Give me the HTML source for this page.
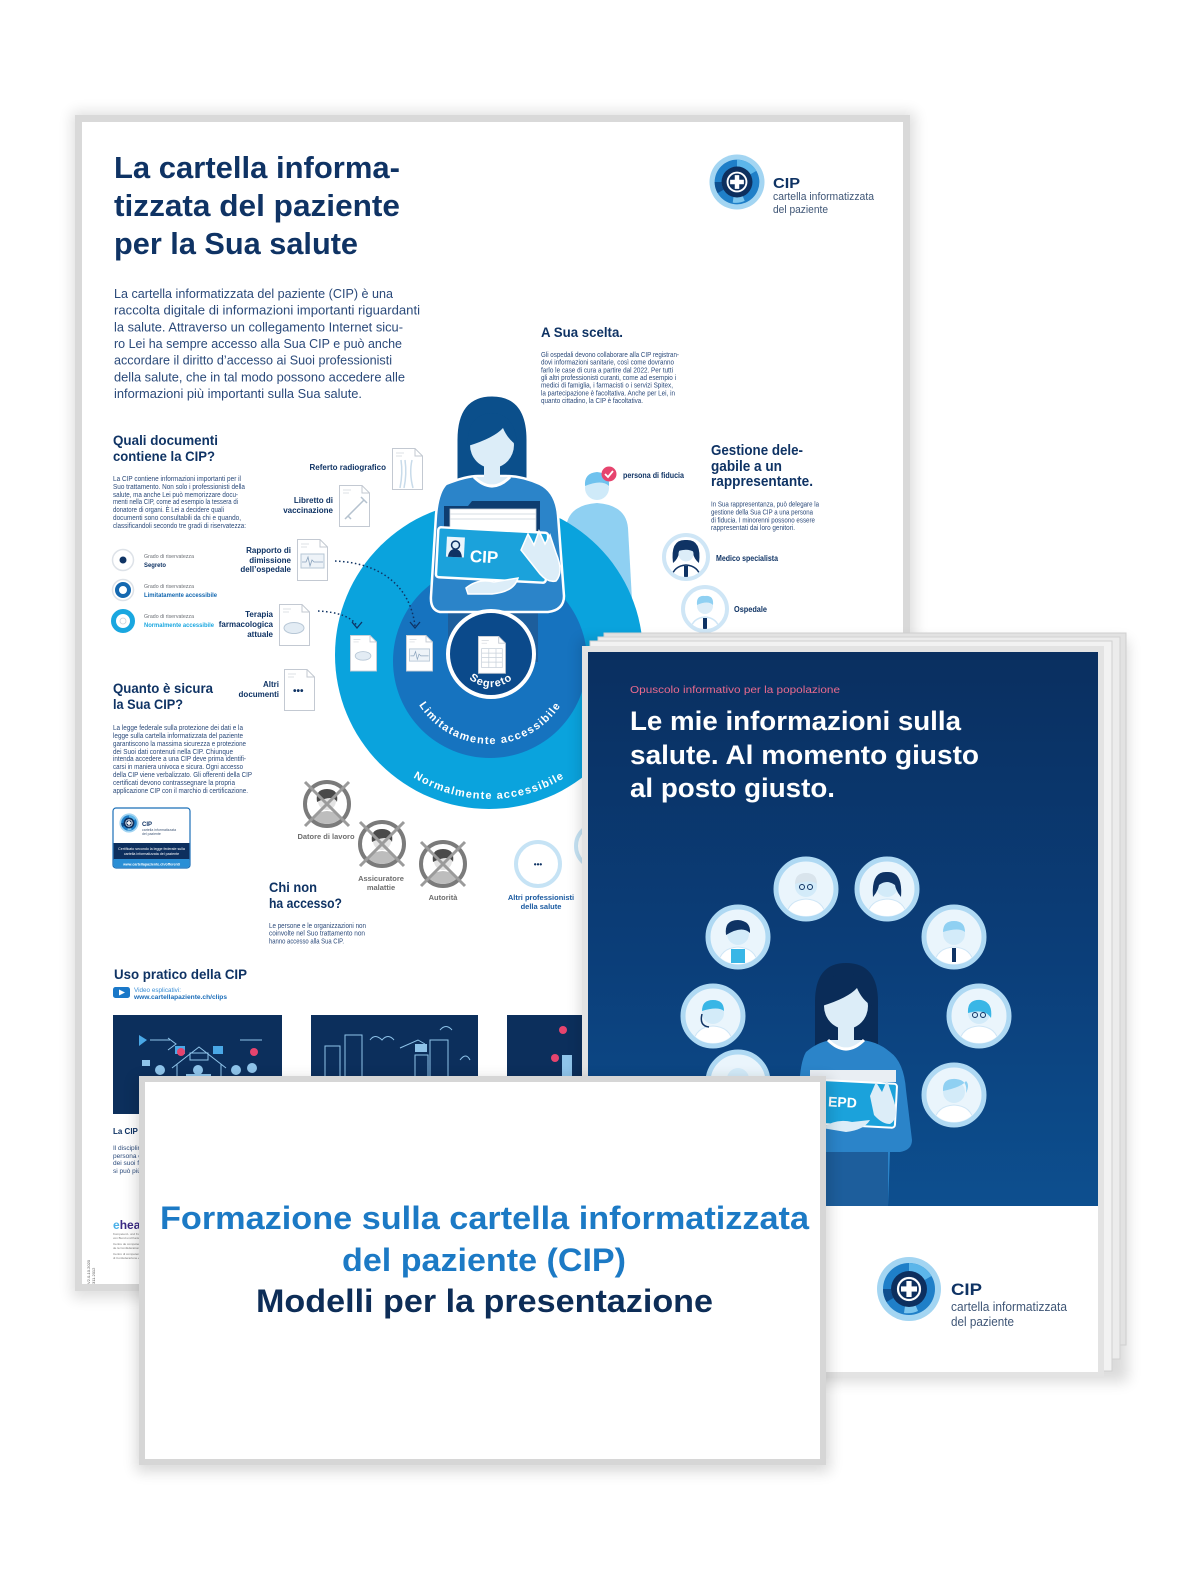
<!DOCTYPE html>
<html><head><meta charset="utf-8"><title>CIP</title>
<style>
html,body{margin:0;padding:0;background:#fff;width:1200px;height:1583px;overflow:hidden}
svg{display:block}
text{font-family:"Liberation Sans",Arial,sans-serif}
</style></head><body>
<svg xmlns="http://www.w3.org/2000/svg" width="1200" height="1583" viewBox="0 0 1200 1583">
<defs>
<filter id="blur" x="-20%" y="-20%" width="140%" height="140%"><feGaussianBlur stdDeviation="7"/></filter>
<linearGradient id="bro" x1="0" y1="0" x2="0" y2="1"><stop offset="0" stop-color="#0a2f60"/><stop offset="0.55" stop-color="#0b3e79"/><stop offset="1" stop-color="#0d4f8f"/></linearGradient>
<clipPath id="c27"><circle r="27"/></clipPath>
<clipPath id="c20"><circle r="20"/></clipPath>
<g id="logo">
<circle r="32" fill="#a3d5f2"/>
<circle r="26" fill="#1f7fc8"/>
<path d="M0,-26A26,26 0 0 1 22.5,-13L15.6,-9A18,18 0 0 0 0,-18Z" fill="#5cb6ea"/>
<path d="M-22.5,13A26,26 0 0 1 -26,0L-18,0A18,18 0 0 0 -15.6,9Z" fill="#0f4f90"/>
<path d="M9,22A24,24 0 0 1 -5,24L-4,17A17,17 0 0 0 6,15Z" fill="#7cc5ee"/>
<circle r="18" fill="#0d2f5e"/>
<circle r="11" fill="none" stroke="#fff" stroke-width="2.2"/>
<rect x="-2.6" y="-8" width="5.2" height="16" fill="#fff"/>
<rect x="-8" y="-2.6" width="16" height="5.2" fill="#fff"/>
</g>
<g id="doc"><path d="M0.5,0.5H23L30.5,8V41.5H0.5Z" fill="#fff" stroke="#c3c9d2"/><path d="M23,0.5V8H30.5" fill="none" stroke="#c3c9d2"/><path d="M4,5H12M4,8H10" stroke="#d3d7dd" stroke-width="0.8"/></g>
<g id="grayav">
<circle r="22" fill="#fff" stroke="#7b7b7b" stroke-width="4"/>
<g clip-path="url(#c20)"><path d="M-16,22Q-14,8 0,7Q14,8 16,22Z" fill="#bdbdbd"/><circle cy="-3" r="9" fill="#e3e3e3"/><path d="M-10,-2Q-12,-15 0,-15Q12,-15 10,-2Q6,-10 -10,-2Z" fill="#4a4a4a"/></g>
<path d="M-22,-22L22,22M22,-22L-22,22" stroke="#9b9b9b" stroke-width="3"/>
</g>
<g id="brav">
<circle r="30" fill="#eaf5fc" stroke="#afd9f3" stroke-width="5"/>
<g clip-path="url(#c27)"><path d="M-20,28Q-18,11 0,10Q18,11 20,28Z" fill="#fff" stroke="#cfe6f6"/><circle cy="-3" r="11" fill="#d3ebf9"/></g>
</g>
</defs>

<!-- ============ POSTER ============ -->
<rect x="72" y="112" width="843" height="1186" fill="#000" opacity="0.13" filter="url(#blur)"/>
<rect x="75" y="115" width="835" height="1176" fill="#d9d9d9"/>
<rect x="82" y="122" width="821" height="1162" fill="#fff"/>

<g fill="#0f3364" font-weight="bold" font-size="31">
<text x="114" y="178" textLength="286" lengthAdjust="spacingAndGlyphs">La cartella informa-</text>
<text x="114" y="216" textLength="286" lengthAdjust="spacingAndGlyphs">tizzata del paziente</text>
<text x="114" y="254" textLength="244" lengthAdjust="spacingAndGlyphs">per la Sua salute</text>
</g>
<g fill="#2b4a7a" font-size="12.5">
<text x="114" y="298" textLength="279" lengthAdjust="spacingAndGlyphs">La cartella informatizzata del paziente (CIP) è una</text>
<text x="114" y="314.7" textLength="306" lengthAdjust="spacingAndGlyphs">raccolta digitale di informazioni importanti riguardanti</text>
<text x="114" y="331.3" textLength="289" lengthAdjust="spacingAndGlyphs">la salute. Attraverso un collegamento Internet sicu-</text>
<text x="114" y="348" textLength="288" lengthAdjust="spacingAndGlyphs">ro Lei ha sempre accesso alla Sua CIP e può anche</text>
<text x="114" y="364.7" textLength="278" lengthAdjust="spacingAndGlyphs">accordare il diritto d’accesso ai Suoi professionisti</text>
<text x="114" y="381.3" textLength="291" lengthAdjust="spacingAndGlyphs">della salute, che in tal modo possono accedere alle</text>
<text x="114" y="398" textLength="248" lengthAdjust="spacingAndGlyphs">informazioni più importanti sulla Sua salute.</text>
</g>

<!-- top logo -->
<use href="#logo" transform="translate(737,182) scale(0.86)"/>
<text x="773" y="188" font-size="15" font-weight="bold" fill="#0f3364" textLength="27" lengthAdjust="spacingAndGlyphs">CIP</text>
<text x="773" y="200" font-size="11" fill="#3f5676" textLength="101" lengthAdjust="spacingAndGlyphs">cartella informatizzata</text>
<text x="773" y="213" font-size="11" fill="#3f5676" textLength="55" lengthAdjust="spacingAndGlyphs">del paziente</text>

<!-- A Sua scelta -->
<text x="541" y="337" font-size="14" font-weight="bold" fill="#0f3364" textLength="82" lengthAdjust="spacingAndGlyphs">A Sua scelta.</text>
<g fill="#2b4a7a" font-size="7">
<text x="541" y="357" textLength="138" lengthAdjust="spacingAndGlyphs">Gli ospedali devono collaborare alla CIP registran-</text>
<text x="541" y="364.7" textLength="133" lengthAdjust="spacingAndGlyphs">dovi informazioni sanitarie, così come dovranno</text>
<text x="541" y="372.3" textLength="132" lengthAdjust="spacingAndGlyphs">farlo le case di cura a partire dal 2022. Per tutti</text>
<text x="541" y="380" textLength="135" lengthAdjust="spacingAndGlyphs">gli altri professionisti curanti, come ad esempio i</text>
<text x="541" y="387.7" textLength="132" lengthAdjust="spacingAndGlyphs">medici di famiglia, i farmacisti o i servizi Spitex,</text>
<text x="541" y="395.3" textLength="134" lengthAdjust="spacingAndGlyphs">la partecipazione è facoltativa. Anche per Lei, in</text>
<text x="541" y="403" textLength="102" lengthAdjust="spacingAndGlyphs">quanto cittadino, la CIP è facoltativa.</text>
</g>

<!-- Gestione -->
<g font-size="15" font-weight="bold" fill="#0f3364">
<text x="711" y="455" textLength="92" lengthAdjust="spacingAndGlyphs">Gestione dele-</text>
<text x="711" y="471" textLength="71" lengthAdjust="spacingAndGlyphs">gabile a un</text>
<text x="711" y="486" textLength="102" lengthAdjust="spacingAndGlyphs">rappresentante.</text>
</g>
<g fill="#2b4a7a" font-size="7">
<text x="711" y="506.5" textLength="108" lengthAdjust="spacingAndGlyphs">In Sua rappresentanza, può delegare la</text>
<text x="711" y="514.5" textLength="102" lengthAdjust="spacingAndGlyphs">gestione della Sua CIP a una persona</text>
<text x="711" y="522.5" textLength="104" lengthAdjust="spacingAndGlyphs">di fiducia. I minorenni possono essere</text>
<text x="711" y="530" textLength="84" lengthAdjust="spacingAndGlyphs">rappresentati dai loro genitori.</text>
</g>

<!-- persona di fiducia -->
<path d="M565,600L566,528Q568,505 597,503Q626,505 628,528L632,600Z" fill="#8fd0f2"/>
<circle cx="597" cy="488" r="12" fill="#cfeaf9"/>
<path d="M585,486Q584,473 597,472Q610,473 609,486Q602,479 585,486Z" fill="#6fc2ee"/>
<circle cx="609" cy="474" r="7.5" fill="#e6446e"/>
<path d="M605,474L608,477L613,471" fill="none" stroke="#fff" stroke-width="1.8"/>
<text x="623" y="478" font-size="8" font-weight="bold" fill="#0f3364" textLength="61" lengthAdjust="spacingAndGlyphs">persona di fiducia</text>

<!-- Medico / Ospedale avatars -->
<g transform="translate(686,557)"><circle r="22" fill="#fff" stroke="#cfe6f6" stroke-width="4"/><g clip-path="url(#c20)"><path d="M-15,22Q-13,9 0,8Q13,9 15,22Z" fill="#fff" stroke="#0f3364" stroke-width="1.5"/><path d="M-13,6Q-16,-18 0,-17Q16,-18 13,6Q8,2 7,-4L-7,-4Q-8,2 -13,6Z" fill="#0f3364"/><circle cy="-3" r="7.5" fill="#dcedf8"/><path d="M-8,-6Q-4,-14 4,-12Q8,-10 8,-5Q2,-9 -8,-6Z" fill="#0f3364"/><rect x="-2" y="9" width="4" height="13" fill="#0f3364"/></g></g>
<text x="716" y="561" font-size="8" font-weight="bold" fill="#0f3364" textLength="62" lengthAdjust="spacingAndGlyphs">Medico specialista</text>
<g transform="translate(705,609)"><circle r="22" fill="#fff" stroke="#cfe6f6" stroke-width="4"/><g clip-path="url(#c20)"><path d="M-15,22Q-13,9 0,8Q13,9 15,22Z" fill="#fff" stroke="#cfe6f6" stroke-width="1.5"/><circle cy="-3" r="8" fill="#dcedf8"/><path d="M-8,-4Q-9,-14 0,-13Q9,-14 8,-4Q3,-9 -8,-4Z" fill="#8fd0f2"/><rect x="-2" y="9" width="4" height="13" fill="#0f3364"/></g></g>
<text x="734" y="612" font-size="8" font-weight="bold" fill="#0f3364" textLength="33" lengthAdjust="spacingAndGlyphs">Ospedale</text>
<circle cx="702" cy="664" r="22" fill="#fff" stroke="#cfe6f6" stroke-width="4"/>

<!-- big circles -->
<circle cx="489" cy="655" r="154" fill="#0aa3dd"/>
<circle cx="490" cy="661" r="97" fill="#1673bf"/>

<!-- woman -->
<path d="M456,494L456,440Q456,395 492,395Q528,395 528,440L528,494Z" fill="#0b4f8b" stroke="#fff" stroke-width="3"/>
<rect x="448" y="606" width="90" height="56" fill="#1d5e9c"/>
<path d="M446,484Q466,476 478,476L506,476Q522,476 540,484Q556,492 558,515L564,596Q564,610 548,612L440,612Q430,610 431,596L436,515Q438,492 446,484Z" fill="#2b84c9" stroke="#fff" stroke-width="2.5"/>
<rect x="484" y="460" width="16" height="20" fill="#dcedf8"/>
<path d="M474,477Q492,495 510,477" fill="#dcedf8" stroke="#fff" stroke-width="3"/>
<ellipse cx="492" cy="445" rx="22" ry="23" fill="#dcedf8"/>
<path d="M468,446Q466,416 490,413Q512,413 516,436L518,446Q508,440 503,428Q494,438 468,446Z" fill="#0b4f8b"/>
<path d="M444,506L468,506L472,501L540,501L540,536L444,536Z" fill="#0e3d70"/>
<rect x="450" y="509" width="86" height="24" fill="#fff" stroke="#c9d1da" stroke-width="0.8"/>
<path d="M450,514H536M450,519H536" stroke="#c9d1da" stroke-width="0.8"/>
<g transform="rotate(3 492 556)">
<rect x="437" y="530" width="110" height="50" rx="3" fill="#1ba2db" stroke="#fff" stroke-width="2.5"/>
<rect x="446" y="539" width="18" height="20" fill="#eaf5fc"/>
<path d="M448,559Q449,551 455,551Q461,551 462,559Z" fill="#0f3364"/>
<circle cx="455" cy="547" r="4" fill="#dcedf8" stroke="#0f3364" stroke-width="1.5"/>
<text x="470" y="563" font-size="17" font-weight="bold" fill="#fff">CIP</text>
</g>
<path d="M521,550L528,534L534,545L539,531L545,544L550,535L556,553Q564,572 556,581Q548,583 540,574Z" fill="#dcedf8" stroke="#fff" stroke-width="1.5"/>
<path d="M466,588Q478,578 494,582L518,578Q514,592 492,594L468,594Z" fill="#dcedf8" stroke="#fff" stroke-width="1.5"/>

<!-- Segreto circle -->
<circle cx="491" cy="654" r="43" fill="#0b4a8b" stroke="#fff" stroke-width="4"/>
<g transform="translate(478,636) scale(0.9)"><use href="#doc"/><path d="M4,14H27V35H4ZM4,19H27M4,24H27M4,29H27M12,14V35M20,14V35" fill="none" stroke="#c7d0da" stroke-width="0.8"/></g>
<path id="pS" d="M458,654A33,33 0 0 0 524,654" fill="none"/>
<text font-size="11" font-weight="bold" fill="#fff" letter-spacing="1"><textPath href="#pS" startOffset="50%" text-anchor="middle">Segreto</textPath></text>
<path id="pL" d="M406,660A84,84 0 0 0 574,660" fill="none"/>
<text font-size="11" font-weight="bold" fill="#fff" letter-spacing="1.3"><textPath href="#pL" startOffset="50%" text-anchor="middle">Limitatamente accessibile</textPath></text>
<path id="pN" d="M345,655A144,144 0 0 0 633,655" fill="none"/>
<text font-size="11" font-weight="bold" fill="#fff" letter-spacing="1.2"><textPath href="#pN" startOffset="50%" text-anchor="middle">Normalmente accessibile</textPath></text>

<!-- inner docs -->
<g transform="translate(350,635) scale(0.87)"><use href="#doc"/><ellipse cx="15" cy="24" rx="9" ry="5" fill="#e3ecf4" stroke="#b7c7d6"/></g>
<g transform="translate(406,635) scale(0.87)"><use href="#doc"/><rect x="4" y="16" width="23" height="14" fill="#eef3f8" stroke="#b7c7d6"/><path d="M5,24L9,24L11,19L13,28L15,22L17,24L26,24" fill="none" stroke="#8aa3bd" stroke-width="0.8"/></g>

<!-- outer docs -->
<g transform="translate(392,448)"><use href="#doc"/><path d="M9,12Q11,25 8,40M20,12Q17,25 21,40M13,12Q15,26 12,40" fill="none" stroke="#c8dbea" stroke-width="1.5"/></g>
<g transform="translate(339,485)"><use href="#doc"/><path d="M6,34L25,15M22,12L28,18M9,31L12,34" fill="none" stroke="#b5c2cf" stroke-width="1.5"/></g>
<g transform="translate(297,539)"><use href="#doc"/><rect x="4" y="15" width="23" height="14" fill="#eef3f8" stroke="#b7c7d6"/><path d="M5,23L9,23L11,18L13,27L15,21L17,23L26,23" fill="none" stroke="#8aa3bd" stroke-width="0.8"/></g>
<g transform="translate(279,604)"><use href="#doc"/><ellipse cx="15" cy="24" rx="10" ry="5.5" fill="#e3ecf4" stroke="#b7c7d6"/></g>
<g transform="translate(284,669)"><use href="#doc"/><text x="9" y="25" font-size="10" font-weight="bold" fill="#0f3364">•••</text></g>

<g font-size="8" font-weight="bold" fill="#0f3364" text-anchor="end">
<text x="386" y="470">Referto radiografico</text>
<text x="333" y="503">Libretto di</text>
<text x="333" y="513">vaccinazione</text>
<text x="291" y="553">Rapporto di</text>
<text x="291" y="563">dimissione</text>
<text x="291" y="572">dell’ospedale</text>
<text x="273" y="617">Terapia</text>
<text x="273" y="627">farmacologica</text>
<text x="273" y="637">attuale</text>
<text x="279" y="687">Altri</text>
<text x="279" y="697">documenti</text>
</g>
<path d="M335,561C380,563 410,585 415,626" fill="none" stroke="#0f3364" stroke-width="1.5" stroke-dasharray="1.5 2.5"/>
<path d="M410,622L415,628L420,622" fill="none" stroke="#0f3364" stroke-width="1.3"/>
<path d="M318,611C338,612 352,617 357,626" fill="none" stroke="#0f3364" stroke-width="1.5" stroke-dasharray="1.5 2.5"/>
<path d="M352,622L357,628L362,622" fill="none" stroke="#0f3364" stroke-width="1.3"/>

<!-- Quali documenti -->
<g font-size="14" font-weight="bold" fill="#0f3364">
<text x="113" y="445" textLength="105" lengthAdjust="spacingAndGlyphs">Quali documenti</text>
<text x="113" y="461" textLength="102" lengthAdjust="spacingAndGlyphs">contiene la CIP?</text>
</g>
<g fill="#2b4a7a" font-size="7">
<text x="113" y="481" textLength="128" lengthAdjust="spacingAndGlyphs">La CIP contiene informazioni importanti per il</text>
<text x="113" y="489" textLength="132" lengthAdjust="spacingAndGlyphs">Suo trattamento. Non solo i professionisti della</text>
<text x="113" y="497" textLength="125" lengthAdjust="spacingAndGlyphs">salute, ma anche Lei può memorizzare docu-</text>
<text x="113" y="504" textLength="125" lengthAdjust="spacingAndGlyphs">menti nella CIP, come ad esempio la tessera di</text>
<text x="113" y="512" textLength="111" lengthAdjust="spacingAndGlyphs">donatore di organi. È Lei a decidere quali</text>
<text x="113" y="520" textLength="128" lengthAdjust="spacingAndGlyphs">documenti sono consultabili da chi e quando,</text>
<text x="113" y="528" textLength="133" lengthAdjust="spacingAndGlyphs">classificandoli secondo tre gradi di riservatezza:</text>
</g>
<!-- legend -->
<circle cx="123" cy="560" r="10.5" fill="#fff" stroke="#dde2e8" stroke-width="1.5"/>
<circle cx="123" cy="560" r="3.5" fill="#0f3364"/>
<circle cx="123" cy="590" r="10.5" fill="#fff" stroke="#dde2e8" stroke-width="1.5"/>
<circle cx="123" cy="590" r="6" fill="#fff" stroke="#1468b0" stroke-width="4"/>
<circle cx="123" cy="621" r="9.5" fill="#fff" stroke="#1aa7e0" stroke-width="5"/>
<circle cx="123" cy="621" r="3" fill="#fff" stroke="#c9d0d8" stroke-width="0.8"/>
<g font-size="5.5" fill="#6b6f75">
<text x="144" y="558" textLength="50" lengthAdjust="spacingAndGlyphs">Grado di riservatezza</text>
<text x="144" y="588" textLength="50" lengthAdjust="spacingAndGlyphs">Grado di riservatezza</text>
<text x="144" y="618" textLength="50" lengthAdjust="spacingAndGlyphs">Grado di riservatezza</text>
</g>
<g font-size="6" font-weight="bold">
<text x="144" y="567" fill="#0f3364" textLength="22" lengthAdjust="spacingAndGlyphs">Segreto</text>
<text x="144" y="597" fill="#1468b0" textLength="73" lengthAdjust="spacingAndGlyphs">Limitatamente accessibile</text>
<text x="144" y="627" fill="#1aa7e0" textLength="70" lengthAdjust="spacingAndGlyphs">Normalmente accessibile</text>
</g>

<!-- Quanto è sicura -->
<g font-size="14" font-weight="bold" fill="#0f3364">
<text x="113" y="693" textLength="100" lengthAdjust="spacingAndGlyphs">Quanto è sicura</text>
<text x="113" y="709" textLength="70" lengthAdjust="spacingAndGlyphs">la Sua CIP?</text>
</g>
<g fill="#2b4a7a" font-size="7">
<text x="113" y="730" textLength="130" lengthAdjust="spacingAndGlyphs">La legge federale sulla protezione dei dati e la</text>
<text x="113" y="738" textLength="130" lengthAdjust="spacingAndGlyphs">legge sulla cartella informatizzata del paziente</text>
<text x="113" y="746" textLength="133" lengthAdjust="spacingAndGlyphs">garantiscono la massima sicurezza e protezione</text>
<text x="113" y="754" textLength="120" lengthAdjust="spacingAndGlyphs">dei Suoi dati contenuti nella CIP. Chiunque</text>
<text x="113" y="761" textLength="133" lengthAdjust="spacingAndGlyphs">intenda accedere a una CIP deve prima identifi-</text>
<text x="113" y="769" textLength="130" lengthAdjust="spacingAndGlyphs">carsi in maniera univoca e sicura. Ogni accesso</text>
<text x="113" y="777" textLength="139" lengthAdjust="spacingAndGlyphs">della CIP viene verbalizzato. Gli offerenti della CIP</text>
<text x="113" y="785" textLength="122" lengthAdjust="spacingAndGlyphs">certificati devono contrassegnare la propria</text>
<text x="113" y="793" textLength="135" lengthAdjust="spacingAndGlyphs">applicazione CIP con il marchio di certificazione.</text>
</g>
<!-- badge -->
<rect x="113" y="808" width="77" height="60" rx="3" fill="#fff" stroke="#1a6fb8" stroke-width="1.2"/>
<use href="#logo" transform="translate(129,823) scale(0.3)"/>
<text x="142" y="826" font-size="6" font-weight="bold" fill="#0f3364">CIP</text>
<text x="142" y="831" font-size="3.5" fill="#3f5676">cartella informatizzata</text>
<text x="142" y="835" font-size="3.5" fill="#3f5676">del paziente</text>
<rect x="113.6" y="843" width="75.8" height="17" fill="#0d2f5e"/>
<path d="M113.6,859H189.4V865Q189.4,867.4 187,867.4H116Q113.6,867.4 113.6,865Z" fill="#2a8fd6"/>
<text x="151.5" y="850" font-size="3.6" fill="#fff" text-anchor="middle">Certificato secondo la legge federale sulla</text>
<text x="151.5" y="855" font-size="3.6" fill="#fff" text-anchor="middle">cartella informatizzata del paziente</text>
<text x="151.5" y="865.5" font-size="3.6" font-weight="bold" fill="#fff" text-anchor="middle">www.cartellapaziente.ch/offerenti</text>

<!-- no access -->
<use href="#grayav" transform="translate(327,804)"/>
<use href="#grayav" transform="translate(382,844)"/>
<use href="#grayav" transform="translate(443,864)"/>
<g font-size="7.5" font-weight="bold" fill="#6e6e6e" text-anchor="middle">
<text x="326" y="839">Datore di lavoro</text>
<text x="381" y="881">Assicuratore</text>
<text x="381" y="890">malattie</text>
<text x="443" y="900">Autorità</text>
</g>
<circle cx="538" cy="864" r="22" fill="#fff" stroke="#c6e3f5" stroke-width="4"/>
<text x="538" y="867" font-size="8" font-weight="bold" fill="#0f3364" text-anchor="middle">•••</text>
<circle cx="598" cy="846" r="22" fill="#fff" stroke="#c6e3f5" stroke-width="4"/>
<g font-size="7.5" font-weight="bold" fill="#1a5aa0" text-anchor="middle">
<text x="541" y="900">Altri professionisti</text>
<text x="541" y="909">della salute</text>
</g>
<g font-size="14" font-weight="bold" fill="#0f3364">
<text x="269" y="892" textLength="48" lengthAdjust="spacingAndGlyphs">Chi non</text>
<text x="269" y="908" textLength="73" lengthAdjust="spacingAndGlyphs">ha accesso?</text>
</g>
<g fill="#2b4a7a" font-size="7">
<text x="269" y="928" textLength="97" lengthAdjust="spacingAndGlyphs">Le persone e le organizzazioni non</text>
<text x="269" y="935.5" textLength="96" lengthAdjust="spacingAndGlyphs">coinvolte nel Suo trattamento non</text>
<text x="269" y="943.5" textLength="75" lengthAdjust="spacingAndGlyphs">hanno accesso alla Sua CIP.</text>
</g>

<!-- Uso pratico -->
<text x="114" y="979" font-size="14" font-weight="bold" fill="#0f3364" textLength="133" lengthAdjust="spacingAndGlyphs">Uso pratico della CIP</text>
<rect x="113" y="987" width="17" height="11" rx="2.5" fill="#1a78c8"/>
<path d="M119,989.5L125,992.5L119,995.5Z" fill="#fff"/>
<text x="134" y="992" font-size="6.5" fill="#3b8fd6" textLength="47" lengthAdjust="spacingAndGlyphs">Video esplicativi:</text>
<text x="134" y="999" font-size="6.5" font-weight="bold" fill="#1a6cb8" textLength="93" lengthAdjust="spacingAndGlyphs">www.cartellapaziente.ch/clips</text>

<rect x="113" y="1015" width="169" height="99" fill="#0c2f5c"/>
<rect x="311" y="1015" width="167" height="99" fill="#0c2f5c"/>
<rect x="507" y="1015" width="78" height="99" fill="#0c2f5c"/>
<g fill="none" stroke="#8fc4ea" stroke-width="1">
<path d="M172,1068L199,1047L226,1068M177,1064V1080M221,1064V1080M190,1053H208V1060H190Z"/>
<path d="M150,1040H170M240,1040H262M168,1038L176,1044L168,1050"/>
<path d="M325,1080V1046H340V1080M345,1080V1035H362V1080M430,1080V1040H448V1080M415,1080V1055H428V1080M370,1040Q375,1033 382,1040Q388,1033 394,1040M440,1030Q446,1023 452,1030"/>
<path d="M400,1048L418,1040L425,1044M460,1060Q466,1052 470,1060"/>
</g>
<g fill="#8fc4ea"><circle cx="160" cy="1070" r="5"/><circle cx="236" cy="1070" r="5"/><circle cx="198" cy="1070" r="5"/><circle cx="252" cy="1068" r="5"/><rect x="186" y="1074" width="25" height="8"/><rect x="142" y="1060" width="8" height="6"/><rect x="415" y="1044" width="12" height="8"/><rect x="562" y="1055" width="10" height="22"/></g>
<rect x="175" y="1046" width="10" height="8" fill="#4aa8e6"/><rect x="213" y="1046" width="10" height="8" fill="#4aa8e6"/>
<g fill="#e6446e"><circle cx="181" cy="1052" r="4"/><circle cx="254" cy="1052" r="4"/><circle cx="563" cy="1030" r="4"/><circle cx="555" cy="1058" r="4"/></g>
<path d="M139,1035L147,1040L139,1046Z" fill="#4aa8e6"/>

<text x="113" y="1134" font-size="8" font-weight="bold" fill="#0f3364">La CIP p</text>
<g font-size="6.5" fill="#2b4a7a">
<text x="113" y="1150">Il disciplin</text>
<text x="113" y="1158">persona c</text>
<text x="113" y="1165">dei suoi f</text>
<text x="113" y="1173">si può più</text>
</g>
<text x="113" y="1229" font-size="12" font-weight="bold"><tspan fill="#4ab0e8">e</tspan><tspan fill="#3b2a84">health</tspan></text>
<g fill="#777" font-size="3">
<text x="113" y="1235">Kompetenz- und Koordinationsstelle</text>
<text x="113" y="1239">von Bund und Kantonen</text>
<text x="113" y="1245">Centre de compétences et de coordination</text>
<text x="113" y="1249">de la Confédération et des cantons</text>
<text x="113" y="1255">Centro di competenza e di coordinamento</text>
<text x="113" y="1259">di Confederazione e Cantoni</text>
</g>
<text transform="translate(90,1284) rotate(-90)" font-size="4" fill="#555">V2.0-10.2020</text>
<text transform="translate(95,1284) rotate(-90)" font-size="4" fill="#555">311.2012</text>

<!-- ============ BROCHURE ============ -->
<rect x="580" y="640" width="548" height="742" fill="#000" opacity="0.14" filter="url(#blur)"/>
<rect x="604" y="633" width="522" height="712" fill="#e2e2e2" stroke="#cfcfcf"/>
<rect x="598" y="637" width="522" height="722" fill="#ececec" stroke="#d2d2d2"/>
<rect x="590" y="641" width="522" height="730" fill="#f2f2f2" stroke="#d0d0d0"/>
<rect x="582" y="646" width="522" height="732" fill="#e3e3e3"/>
<rect x="588" y="652" width="510" height="554" fill="url(#bro)"/>
<rect x="588" y="1206" width="510" height="166" fill="#fff"/>

<text x="630" y="693" font-size="10" fill="#e86a8e" textLength="210" lengthAdjust="spacingAndGlyphs">Opuscolo informativo per la popolazione</text>
<g font-size="27" font-weight="bold" fill="#fff">
<text x="630" y="730" textLength="331" lengthAdjust="spacingAndGlyphs">Le mie informazioni sulla</text>
<text x="630" y="764" textLength="349" lengthAdjust="spacingAndGlyphs">salute. Al momento giusto</text>
<text x="630" y="797" textLength="205" lengthAdjust="spacingAndGlyphs">al posto giusto.</text>
</g>

<!-- brochure avatars -->
<g transform="translate(806,889)"><use href="#brav"/><path d="M-11,-5Q-11,-16 0,-16Q11,-16 11,-5Q5,-10 -11,-5Z" fill="#d9e4ec"/><circle cx="-4" cy="-2" r="2.5" fill="none" stroke="#0f3364"/><circle cx="4" cy="-2" r="2.5" fill="none" stroke="#0f3364"/></g>
<g transform="translate(887,889)"><use href="#brav"/><path d="M-14,8Q-16,-18 0,-17Q16,-18 14,8Q9,2 8,-4Q0,-10 -8,-4Q-9,2 -14,8Z" fill="#0f3364"/></g>
<g transform="translate(738,937)"><use href="#brav"/><path d="M-12,-2Q-14,-17 0,-17Q13,-16 12,-4Q4,-12 -12,-2Z" fill="#0f3364"/><rect x="-7" y="12" width="14" height="14" fill="#39b6e6"/></g>
<g transform="translate(954,937)"><use href="#brav"/><path d="M-11,-5Q-11,-16 0,-16Q11,-16 11,-5Q5,-10 -11,-5Z" fill="#8fd0f2"/><rect x="-2" y="11" width="4" height="14" fill="#0f3364"/></g>
<g transform="translate(713,1016)"><use href="#brav"/><path d="M-11,-5Q-11,-16 0,-16Q11,-16 11,-5Q5,-10 -11,-5Z" fill="#39b6e6"/><path d="M-11,-2Q-14,10 -4,11" fill="none" stroke="#0f3364" stroke-width="1.5"/></g>
<g transform="translate(979,1016)"><use href="#brav"/><path d="M-11,-3Q-12,-17 2,-16Q14,-14 12,2Q6,-8 -11,-3Z" fill="#39b6e6"/><circle cx="-4" cy="-1" r="2.5" fill="none" stroke="#0f3364"/><circle cx="4" cy="-1" r="2.5" fill="none" stroke="#0f3364"/></g>
<g transform="translate(954,1095)"><use href="#brav"/><path d="M-11,-4Q-12,-17 2,-16Q14,-15 12,-2Q16,-10 12,-14Q8,-8 -11,-4Z" fill="#8fd0f2"/></g>
<g transform="translate(738,1082)"><use href="#brav"/></g>

<!-- brochure woman -->
<path d="M815,1047L815,1002Q815,963 846,963Q878,963 878,1002L878,1047Z" fill="#0a2c58"/>
<path d="M806,1052Q820,1040 835,1040L858,1040Q876,1040 890,1052Q904,1062 906,1090L912,1140Q912,1150 900,1152L890,1152L888,1206L804,1206L802,1152Q796,1150 796,1140L799,1090Q800,1062 806,1052Z" fill="#2b84c9"/>
<rect x="804" y="1152" width="84" height="54" fill="#1d5e9c"/>
<rect x="838" y="1026" width="16" height="16" fill="#dcedf8"/>
<path d="M828,1040Q846,1058 864,1040" fill="#dcedf8" stroke="#fff" stroke-width="3"/>
<ellipse cx="846" cy="1006" rx="22" ry="23" fill="#dcedf8"/>
<path d="M822,1006Q820,976 844,973Q866,973 870,996L872,1006Q862,1000 857,988Q848,998 822,1006Z" fill="#0a2c58"/>
<path d="M810,1070L896,1070L896,1082L810,1082Z" fill="#e9eef3"/>
<g transform="rotate(3 860 1104)">
<rect x="818" y="1082" width="78" height="44" rx="3" fill="#1ba2db" stroke="#fff" stroke-width="2"/>
<text x="828" y="1108" font-size="14" font-weight="bold" fill="#fff">EPD</text>
</g>
<path d="M870,1096L876,1082L882,1092L887,1080L893,1098Q900,1118 890,1124Q882,1124 874,1115Z" fill="#dcedf8"/>
<path d="M822,1128Q836,1118 852,1122L870,1120Q864,1130 846,1132Z" fill="#dcedf8"/>

<!-- brochure logo -->
<use href="#logo" transform="translate(909,1289)"/>
<text x="951" y="1295" font-size="17" font-weight="bold" fill="#0f3364" textLength="31" lengthAdjust="spacingAndGlyphs">CIP</text>
<text x="951" y="1311" font-size="13" fill="#3f5676" textLength="116" lengthAdjust="spacingAndGlyphs">cartella informatizzata</text>
<text x="951" y="1326" font-size="13" fill="#3f5676" textLength="63" lengthAdjust="spacingAndGlyphs">del paziente</text>

<!-- ============ SLIDE ============ -->
<rect x="136" y="1078" width="694" height="394" fill="#000" opacity="0.15" filter="url(#blur)"/>
<rect x="139" y="1076" width="687" height="389" fill="#d6d6d6"/>
<rect x="145" y="1082" width="675" height="377" fill="#fff"/>
<g font-weight="bold" font-size="32">
<text x="160" y="1229" fill="#1c7ac5" textLength="649" lengthAdjust="spacingAndGlyphs">Formazione sulla cartella informatizzata</text>
<text x="342" y="1271" fill="#1c7ac5" textLength="284" lengthAdjust="spacingAndGlyphs">del paziente (CIP)</text>
<text x="256" y="1312" fill="#0d2d57" textLength="457" lengthAdjust="spacingAndGlyphs">Modelli per la presentazione</text>
</g>
</svg>
</body></html>
